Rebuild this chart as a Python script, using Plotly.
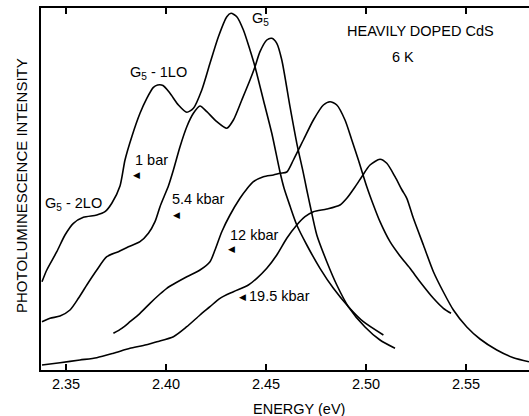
import plotly.graph_objects as go

# ---- data (energy in eV, intensity in arbitrary units) ----
e_1bar = [2.3380, 2.3404, 2.3454, 2.3495, 2.3537, 2.3587, 2.3654, 2.3695, 2.3729, 2.3770,
          2.3795, 2.3829, 2.3870, 2.3904, 2.3937, 2.3958, 2.3985, 2.4020, 2.4062, 2.4104,
          2.4137, 2.4179, 2.4220, 2.4262, 2.4304, 2.4325, 2.4354, 2.4387, 2.4420, 2.4445,
          2.4487, 2.4529, 2.4570, 2.4590, 2.4620, 2.4654, 2.4704, 2.4770, 2.4837, 2.4912,
          2.4987, 2.5087]
i_1bar = [87.3, 99, 117.3, 134, 145.7, 151.7, 154, 157.3, 165.7, 183,
          209, 232.3, 255.7, 270.7, 281.7, 284, 283.5, 275.7, 264, 256.7,
          260.7, 279, 305.7, 332.3, 352.3, 355.7, 352.3, 339, 319, 302.3,
          269, 235.7, 197, 181, 163, 144, 124, 100.7, 80.7, 62.3,
          47.3, 34]

e_5kbar = [2.3380, 2.3420, 2.3470, 2.3520, 2.3562, 2.3604, 2.3654, 2.3704, 2.3762, 2.3812,
           2.3870, 2.3912, 2.3945, 2.3970, 2.3990, 2.4012, 2.4037, 2.4070, 2.4104, 2.4137,
           2.4170, 2.4204, 2.4254, 2.4304, 2.4337, 2.4379, 2.4420, 2.4445, 2.4470, 2.4504,
           2.4529, 2.4554, 2.4579, 2.4620, 2.4654, 2.4687, 2.4704, 2.4720, 2.4754, 2.4804,
           2.4854, 2.4912, 2.4995, 2.5070, 2.5145]
i_5kbar = [47.3, 50.7, 53, 59, 70.7, 84, 99, 112.3, 117.3, 122.3,
           127.3, 135.7, 147.3, 162.3, 172.3, 183, 199, 222.3, 242.3, 255.7,
           263, 257.3, 247.3, 240.7, 249, 269, 289, 302.3, 317.3, 329,
           330.7, 325.7, 309, 262.3, 225.7, 195.7, 179, 164, 134, 107.3,
           84, 62.3, 42, 29, 20.7]

e_12kbar = [2.3737, 2.3779, 2.3820, 2.3870, 2.3920, 2.3970, 2.4004, 2.4045, 2.4104, 2.4170,
            2.4220, 2.4245, 2.4279, 2.4320, 2.4370, 2.4404, 2.4437, 2.4487, 2.4537, 2.4570,
            2.4604, 2.4637, 2.4687, 2.4737, 2.4787, 2.4820, 2.4854, 2.4895, 2.4929, 2.4962,
            2.5004, 2.5037, 2.5070, 2.5120, 2.5170, 2.5220, 2.5270, 2.5337, 2.5387, 2.5425]
i_12kbar = [35.7, 40.7, 47.3, 55.7, 65.7, 75, 80.7, 85.7, 92.3, 99,
            107.3, 119, 137.3, 154, 170.7, 180, 187.3, 192.3, 194, 195.7,
            197, 209, 229, 249, 264, 267.3, 264, 249, 229, 209,
            182.3, 164, 147.3, 127.3, 113, 100.7, 87.3, 70.7, 60.7, 55.7]

e_19kbar = [2.3380, 2.3470, 2.3570, 2.3654, 2.3737, 2.3820, 2.3887, 2.3954, 2.4037, 2.4104,
            2.4170, 2.4220, 2.4270, 2.4337, 2.4412, 2.4454, 2.4504, 2.4554, 2.4604, 2.4654,
            2.4695, 2.4737, 2.4804, 2.4870, 2.4904, 2.4945, 2.4979, 2.5020, 2.5070, 2.5104,
            2.5145, 2.5180, 2.5204, 2.5237, 2.5287, 2.5337, 2.5387, 2.5437, 2.5504, 2.5570,
            2.5654, 2.5737, 2.5815]
i_19kbar = [4, 6.3, 9, 11.3, 15.7, 20.7, 23.5, 27.3, 32.3, 42.3,
            54, 62.3, 70.7, 77.3, 84, 90.7, 100.7, 114, 130.7, 144,
            152.3, 157.3, 160, 164, 170.7, 182, 192.3, 204, 209.7, 205.7,
            192.3, 179, 170.7, 150.7, 124, 97.3, 77, 59, 42, 30,
            19, 11.3, 7.3]

tick_vals = [2.35, 2.40, 2.45, 2.50, 2.55]
tick_text = ["2.35", "2.40", "2.45", "2.50", "2.55"]

FONT = "Liberation Sans, Arial, Helvetica, sans-serif"

fig = go.Figure()
for ex, iy in [(e_1bar, i_1bar), (e_5kbar, i_5kbar), (e_12kbar, i_12kbar), (e_19kbar, i_19kbar)]:
    fig.add_trace(go.Scatter(x=ex, y=iy, mode="lines",
                             line=dict(color="black", width=1.6, shape="spline", smoothing=0.7),
                             showlegend=False, hoverinfo="skip"))

def label(x, y, text, xanchor="left", size=14.5):
    fig.add_annotation(x=x, y=y, text=text, showarrow=False, xanchor=xanchor, yanchor="middle",
                       font=dict(family=FONT, size=size, color="black"))

def tri(x, y):
    fig.add_annotation(x=x, y=y, text="◀", showarrow=False, xanchor="center", yanchor="middle",
                       font=dict(family="DejaVu Sans", size=9, color="black"))

label(2.4420, 350, "G<sub>5</sub>")
label(2.3812, 296, "G<sub>5</sub> - 1LO")
label(2.3387, 165.5, "G<sub>5</sub> - 2LO")
label(2.3835, 209, "1 bar")
label(2.4020, 170, "5.4 kbar")
label(2.4312, 134, "12 kbar")
label(2.4403, 73, "19.5 kbar")
label(2.4895, 338, "HEAVILY DOPED CdS")
label(2.5183, 312, "6 K", xanchor="center")
tri(2.3850, 194)
tri(2.4053, 154)
tri(2.4329, 120)
tri(2.4380, 72)

fig.add_annotation(xref="paper", yref="paper", x=-0.041, y=0.511, text="PHOTOLUMINESCENCE INTENSITY",
                   textangle=-90, showarrow=False, xanchor="center", yanchor="middle",
                   font=dict(family=FONT, size=15, color="black"))
fig.add_annotation(xref="paper", yref="paper", x=0.5277, y=-0.1077, text="ENERGY (eV)",
                   showarrow=False, xanchor="center", yanchor="middle",
                   font=dict(family=FONT, size=14.5, color="black"))

fig.update_layout(
    width=529, height=416,
    margin=dict(l=41, r=0, t=8, b=46),
    paper_bgcolor="white", plot_bgcolor="white",
    xaxis=dict(range=[2.3375, 2.5815], tickvals=tick_vals, ticktext=tick_text,
               ticks="inside", ticklen=6, tickwidth=1.5, tickcolor="black",
               showline=True, linecolor="black", linewidth=2, mirror="ticks",
               showgrid=False, zeroline=False,
               tickfont=dict(family=FONT, size=14.5, color="black")),
    yaxis=dict(range=[-1, 361], showticklabels=False, ticks="",
               showline=True, linecolor="black", linewidth=2, mirror=False,
               showgrid=False, zeroline=False),
)

fig.write_html("out.html")
